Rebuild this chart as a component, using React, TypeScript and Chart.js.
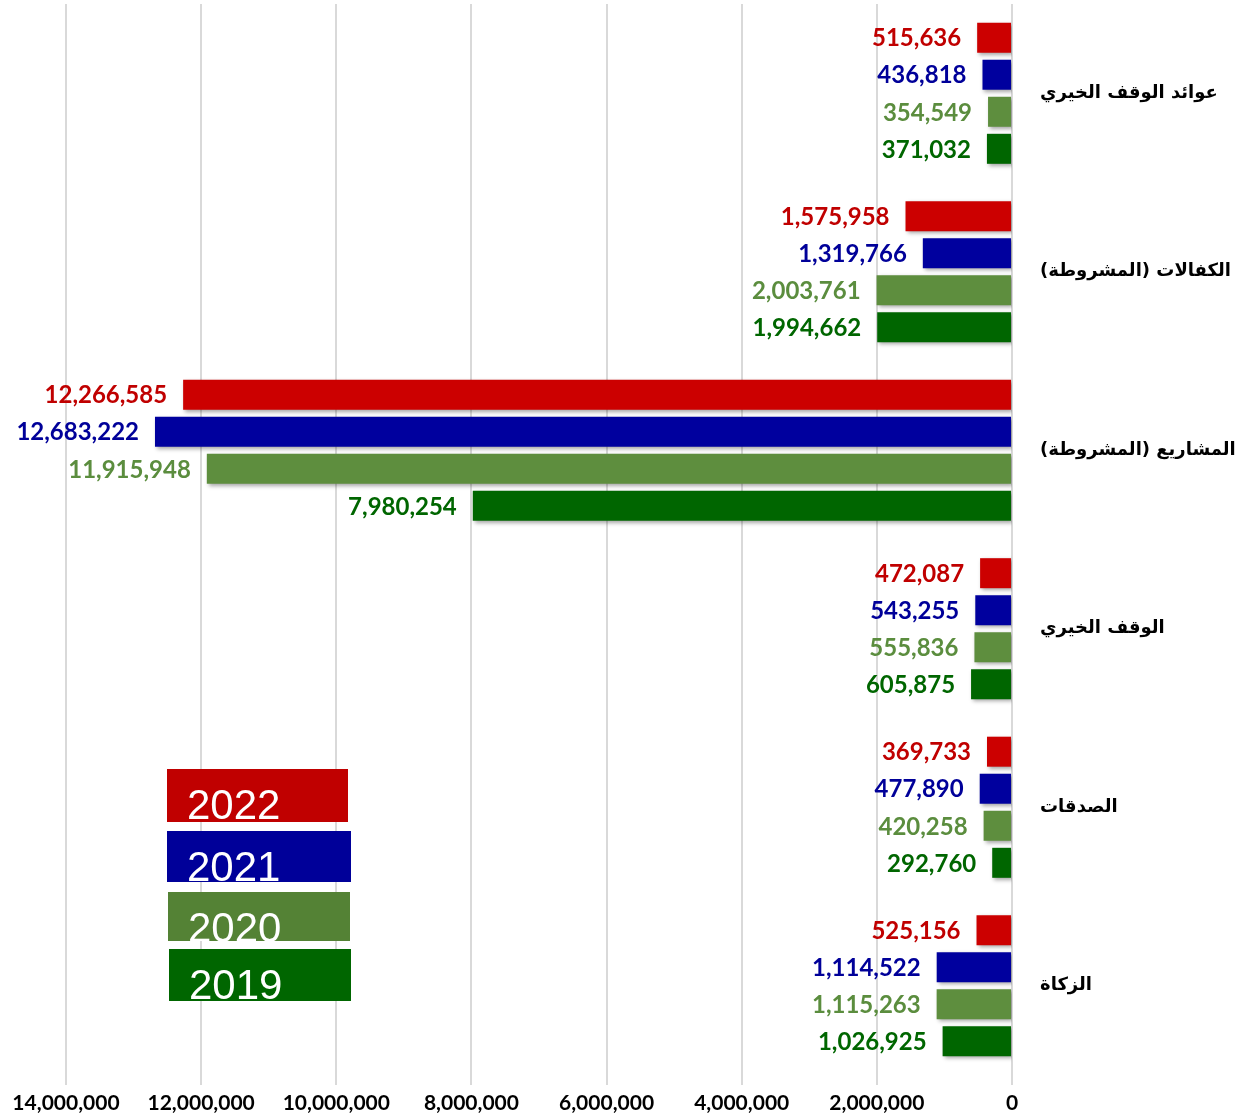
import React, { useEffect, useRef } from "react";
import { Chart, registerables } from "chart.js";

Chart.register(...registerables);

const categories = [
  "عوائد الوقف الخيري",
  "الكفالات (المشروطة)",
  "المشاريع (المشروطة)",
  "الوقف الخيري",
  "الصدقات",
  "الزكاة",
];
const years = ["2022", "2021", "2020", "2019"];
const values2022 = [515636, 1575958, 12266585, 472087, 369733, 525156];
const values2021 = [436818, 1319766, 12683222, 543255, 477890, 1114522];
const values2020 = [354549, 2003761, 11915948, 555836, 420258, 1115263];
const values2019 = [371032, 1994662, 7980254, 605875, 292760, 1026925];
const axisMax = 14000000;
const axisStep = 2000000;

const barColors = ["#CC0000", "#00009E", "#5E8E3E", "#006600"];
const labelColors = ["#C00000", "#000099", "#5B8D3E", "#006600"];
const legendColors = ["#C00000", "#000099", "#548235", "#006600"];
const legendBoxes = [
  { x: 167, y: 769, w: 181, h: 53 },
  { x: 167, y: 831, w: 184, h: 51 },
  { x: 168, y: 892, w: 182, h: 49 },
  { x: 169, y: 949, w: 182, h: 52 },
];

const fmt = (v: number) => Math.round(v).toLocaleString("en-US");

const effectsPlugin = {
  id: "effects",
  beforeDatasetsDraw(chart: any) {
    const ctx = chart.ctx;
    ctx.save();
    ctx.shadowColor = "rgba(0,0,0,0.35)";
    ctx.shadowBlur = 4;
    ctx.shadowOffsetX = 2;
    ctx.shadowOffsetY = 2;
  },
  afterDatasetsDraw(chart: any) {
    const ctx = chart.ctx;
    ctx.restore();
    ctx.save();
    ctx.font = "bold 24px Lato, 'Open Sans', sans-serif";
    ctx.textAlign = "right";
    ctx.textBaseline = "middle";
    chart.data.datasets.forEach((ds: any, di: number) => {
      const meta = chart.getDatasetMeta(di);
      ctx.fillStyle = labelColors[di];
      meta.data.forEach((el: any, i: number) => {
        ctx.fillText(fmt(ds.data[i]), el.x - 16, el.y + 1);
      });
    });
    ctx.restore();
  },
  afterDraw(chart: any) {
    const ctx = chart.ctx;
    ctx.save();
    chart.data.datasets.forEach((ds: any, di: number) => {
      const b = legendBoxes[di];
      ctx.fillStyle = legendColors[di];
      ctx.fillRect(b.x, b.y, b.w, b.h);
      ctx.save();
      ctx.beginPath();
      ctx.rect(b.x, b.y, b.w, b.h);
      ctx.clip();
      ctx.fillStyle = "#FFFFFF";
      ctx.font = "42px 'Liberation Sans', Arial, sans-serif";
      ctx.textAlign = "left";
      ctx.textBaseline = "alphabetic";
      ctx.fillText(ds.label, b.x + 20, b.y + 50);
      ctx.restore();
    });
    ctx.restore();
  },
};

export default function App() {
  const ref = useRef<HTMLCanvasElement | null>(null);

  useEffect(() => {
    if (!ref.current) return;
    const series = [values2022, values2021, values2020, values2019];
    const chart = new Chart(ref.current, {
      type: "bar",
      data: {
        labels: categories,
        datasets: years.map((y, i) => ({
          label: y,
          data: series[i],
          backgroundColor: barColors[i],
          borderWidth: 0,
          categoryPercentage: 0.83,
          barPercentage: 0.81,
        })),
      },
      options: {
        indexAxis: "y",
        responsive: false,
        animation: false,
        events: [],
        layout: { padding: { top: 4, left: 66, right: 0, bottom: 0 } },
        plugins: {
          legend: { display: false },
          tooltip: { enabled: false },
          title: { display: false },
        },
        scales: {
          x: {
            reverse: true,
            min: 0,
            max: axisMax,
            border: { display: false },
            grid: {
              color: "#D9D9D9",
              lineWidth: 2,
              drawTicks: true,
              tickLength: 10,
              tickColor: "#D9D9D9",
            },
            ticks: {
              stepSize: axisStep,
              padding: 6,
              maxRotation: 0,
              color: "#000000",
              font: { family: "Lato, 'Open Sans', sans-serif", weight: "bold", size: 21 },
              callback: (v: any) => fmt(Number(v)),
            },
            afterFit: (s: any) => {
              s.height = 45;
            },
          },
          y: {
            position: "right",
            border: { display: false },
            grid: { display: false, drawTicks: false },
            ticks: {
              padding: 28,
              color: "#000000",
              font: { family: "'DejaVu Sans', sans-serif", weight: "bold", size: 18 },
              callback: (_v: any, i: number) => "\u202B" + categories[i] + "\u202C",
            },
            afterFit: (s: any) => {
              s.width = 231;
              s.paddingTop = 0;
              s.paddingBottom = 0;
            },
          },
        },
      },
      plugins: [effectsPlugin],
    });
    return () => chart.destroy();
  }, []);

  return (
    <div style={{ position: "absolute", left: 0, top: 0, width: 1243, height: 1120, background: "#FFFFFF" }}>
      <canvas ref={ref} width={1243} height={1120} style={{ display: "block" }} />
    </div>
  );
}
